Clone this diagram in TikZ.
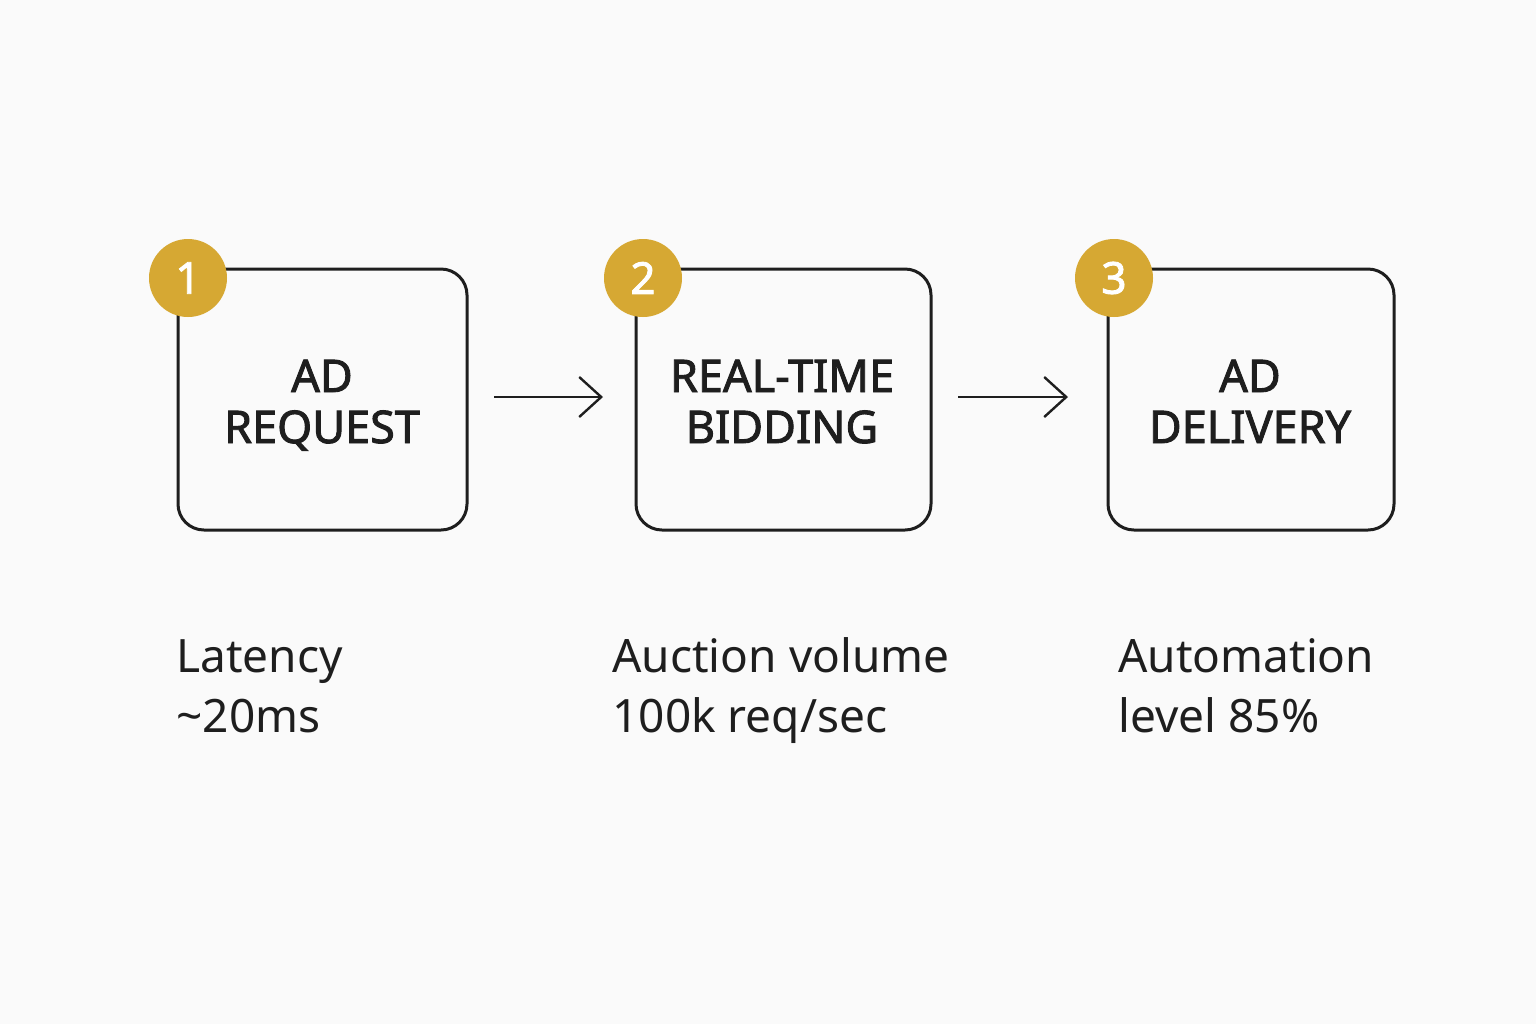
\documentclass[tikz,border=0pt]{standalone}
\usepackage{fontspec}
\setmainfont{Noto Sans}
\newfontfamily\heavyfont{Noto Sans}[FakeBold=2]
\usetikzlibrary{arrows.meta}
\definecolor{bg}{HTML}{FAFAFA}
\definecolor{ink}{HTML}{1E1E1E}
\definecolor{gold}{HTML}{D6A833}
\tikzset{
  stepbox/.style={draw=ink, line width=1.5pt, rounded corners=13pt},
  badge/.style={circle, fill=gold, minimum size=39pt, inner sep=0pt, text=white, font=\fontsize{22}{26}\selectfont\heavyfont},
  boxtext/.style={align=center, text=ink, inner sep=0pt, anchor=base, font=\fontsize{22.5}{25.5}\selectfont\heavyfont},
  metric/.style={align=left, anchor=base west, inner sep=0pt, text=ink, font=\fontsize{23}{30}\selectfont},
  flow/.style={draw=ink, line width=1.2pt, -{Straight Barb[length=11pt,width=20pt,line width=1.2pt]}}
}
\begin{document}
\begin{tikzpicture}[x=0.5pt,y=-0.5pt]
\fill[bg] (0,0) rectangle (1536,1024);
\useasboundingbox (0,0) rectangle (1536,1024);
% boxes
\draw[stepbox] (178,269) rectangle (467,530);
\draw[stepbox] (636,269) rectangle (931,530);
\draw[stepbox] (1108,269) rectangle (1394,530);
\node[boxtext] (t1) at (322,443) {AD\\REQUEST};
\node[boxtext] (t2) at (782,443) {REAL-TIME\\BIDDING};
\node[boxtext] (t3) at (1250,443) {AD\\DELIVERY};
% badges
\node[badge] (b1) at (188,278) {1};
\node[badge] (b2) at (643,278) {2};
\node[badge] (b3) at (1114,278) {3};
% arrows
\coordinate (a1s) at (494,397); \coordinate (a1e) at (603,397);
\coordinate (a2s) at (958,397); \coordinate (a2e) at (1068,397);
\draw[flow] (a1s) -- (a1e);
\draw[flow] (a2s) -- (a2e);
% metrics
\node[metric] (m1) at (176,732) {Latency\\\textasciitilde20ms};
\node[metric] (m2) at (612,732) {Auction volume\\100k req/sec};
\node[metric] (m3) at (1118,732) {Automation\\level 85\%};
\end{tikzpicture}
\end{document}
